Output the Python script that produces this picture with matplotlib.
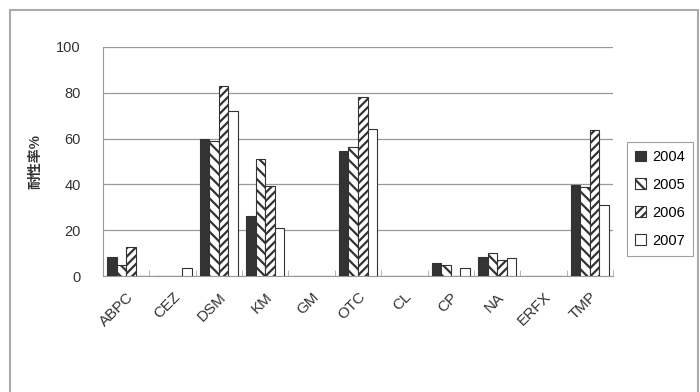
import matplotlib
matplotlib.use("Agg")
import matplotlib.pyplot as plt
import numpy as np
from matplotlib.patches import Rectangle

plt.rcParams["font.family"] = ["Liberation Sans", "Noto Sans CJK JP", "DejaVu Sans"]
plt.rcParams["hatch.linewidth"] = 1.6

categories = ["ABPC", "CEZ", "DSM", "KM", "GM", "OTC", "CL", "CP", "NA", "ERFX", "TMP"]
years = ["2004", "2005", "2006", "2007"]
v2004 = [8.5, 0, 60, 26, 0, 54.5, 0, 5.8, 8.4, 0, 39.7]
v2005 = [5, 0, 59, 51, 0, 56.5, 0, 4.8, 10, 0, 39]
v2006 = [12.8, 0, 83, 39.5, 0, 78.3, 0, 0, 7, 0, 63.8]
v2007 = [0, 3.5, 72, 21, 0, 64.3, 0, 3.5, 8, 0, 31]
series = [v2004, v2005, v2006, v2007]

faces = ["#333333", "white", "white", "white"]
hatches = [None, "\\\\\\", "////", None]

fig = plt.figure(figsize=(7, 3.92), dpi=100)
ax = fig.add_axes([103 / 700, 1 - 276 / 392, 510 / 700, 229 / 392])

x = np.arange(len(categories))
w = 0.205
for i, (vals, yr) in enumerate(zip(series, years)):
    ax.bar(x + (i - 1.5) * w, vals, w, facecolor=faces[i], edgecolor="#333333",
           hatch=hatches[i], linewidth=0.8, label=yr, zorder=3)

ax.set_xlim(-0.5, len(categories) - 0.5)
ax.set_ylim(0, 100)
ax.set_yticks(range(0, 101, 20))
ax.yaxis.grid(True, color="#999999", linewidth=0.9, zorder=0)
ax.tick_params(axis="y", length=0, labelsize=10.5, colors="#333333", pad=16)
ax.set_xticks(x)
ax.set_xticklabels(categories, rotation=45, ha="right", rotation_mode="anchor",
                   fontsize=11, color="#333333")
ax.tick_params(axis="x", length=0, pad=10)
ax.set_xticks(np.arange(-0.5, len(categories)), minor=True)
ax.tick_params(axis="x", which="minor", length=4, direction="in", color="#aaaaaa")

for s in ["top", "right"]:
    ax.spines[s].set_visible(False)
ax.spines["left"].set_color("#999999")
ax.spines["bottom"].set_color("#999999")

ax.set_ylabel("耐性率%", fontsize=10, family=["Noto Sans CJK JP"], fontweight="bold",
              color="#333333", labelpad=10)

leg = fig.legend(loc="upper left", bbox_to_anchor=(627 / 700, 1 - 142 / 392), frameon=True,
                 fancybox=False, edgecolor="#888888", fontsize=10.5, handlelength=0.75,
                 handleheight=0.75, handletextpad=0.4, labelspacing=0.95, borderpad=0.55,
                 borderaxespad=0)
leg.get_frame().set_linewidth(0.8)

fig.patches.append(Rectangle((10 / 700, -0.1), 688 / 700, 1.1 - 10 / 392, transform=fig.transFigure,
                             fill=False, edgecolor="#aaaaaa", linewidth=1.5))

fig.savefig("out.png", dpi=100)
